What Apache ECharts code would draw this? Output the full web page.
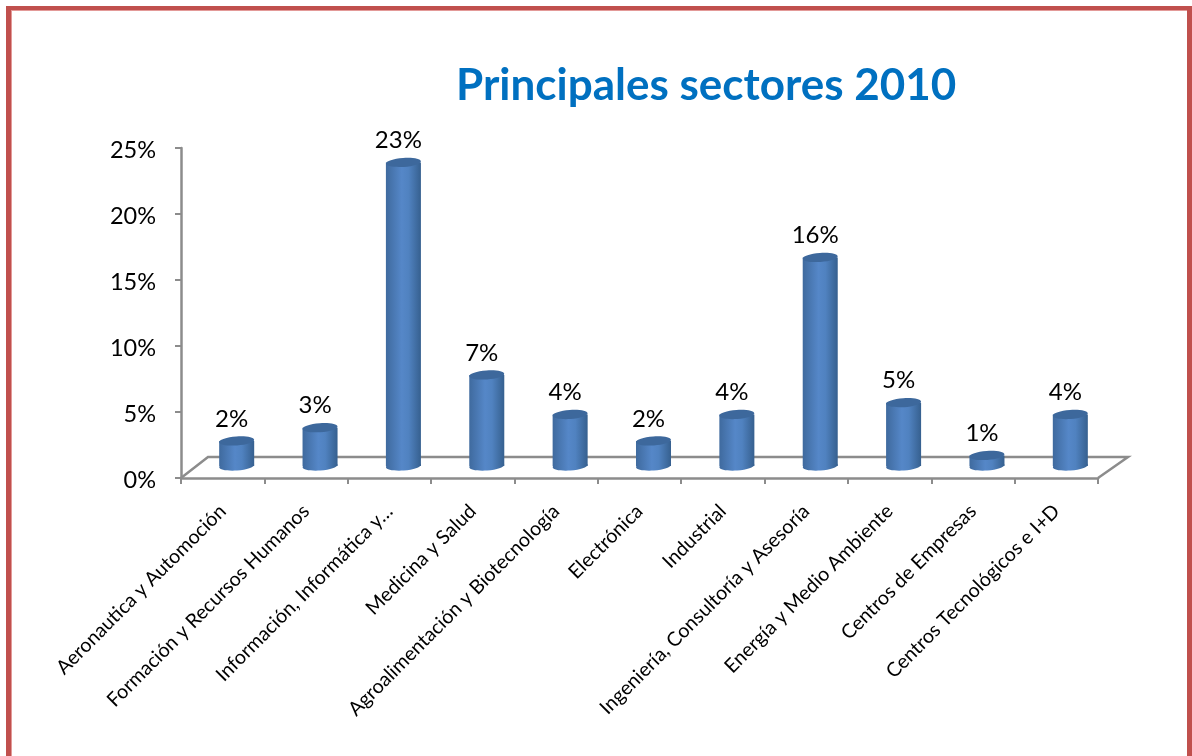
<!DOCTYPE html>
<html>
<head>
<meta charset="utf-8">
<title>Principales sectores 2010</title>
<script src="https://cdn.jsdelivr.net/npm/echarts@6/dist/echarts.min.js"></script>
<style>
  html, body { margin: 0; padding: 0; background: #fff; overflow: hidden; }
  #chart { width: 1192px; height: 756px; }
  /* marco rojo de la diapositiva, sin borde inferior */
  #frame {
    position: absolute; left: 6px; top: 6px; width: 1176px; height: 760px;
    border: 5px solid #c0504d; border-top-width: 4px;
    box-shadow: inset 1px 1px 0 #e39a98;
  }
</style>
</head>
<body>
<div id="chart"></div>
<div id="frame"></div>
<script>
const categories = [
  'Aeronautica y Automoción',
  'Formación y Recursos Humanos',
  'Información, Informática y…',
  'Medicina y Salud',
  'Agroalimentación y Biotecnología',
  'Electrónica',
  'Industrial',
  'Ingeniería, Consultoría y Asesoría',
  'Energía y Medio Ambiente',
  'Centros de Empresas',
  'Centros Tecnológicos e I+D'
]
const values = [1.9, 2.9, 23.0, 6.9, 3.9, 1.9, 3.9, 15.8, 4.8, 0.8, 3.9]
const fontName = 'Lato, "Open Sans", sans-serif'
const axisGrey = '#8c8c8c'

const chart = echarts.init(document.getElementById('chart'))

// desplazamiento de la perspectiva 3D respecto al eje
const depthX = 14
const depthY = 12

// suelo: parte trasera del plano
function renderFloor(params, api) {
  const cs = params.coordSys
  const y0 = api.coord([0, 0])[1]
  const backY = y0 - 21
  return {
    type: 'polyline',
    silent: true,
    shape: {
      points: [
        [cs.x, y0],
        [cs.x + 27, backY],
        [cs.x + cs.width + 30, backY],
        [cs.x + cs.width, y0]
      ]
    },
    style: { stroke: axisGrey, lineWidth: 2.5, fill: null }
  }
}

// cilindro
function renderBar(params, api) {
  const idx = api.value(0)
  const val = api.value(1)
  const top = api.coord([idx, val])
  const base = api.coord([idx, 0])
  const rx = api.size([1, 0])[0] * 0.21
  const ry = 4.5
  const cx = top[0] + depthX
  const topY = top[1] - depthY
  const baseY = base[1] - depthY
  const tilt = 0.07
  const bodyFill = {
    type: 'linear', x: 0, y: 0, x2: 1, y2: 0,
    colorStops: [
      { offset: 0, color: '#3f6a9e' },
      { offset: 0.45, color: '#5587c8' },
      { offset: 0.65, color: '#5082c0' },
      { offset: 1, color: '#36608f' }
    ]
  }
  return {
    type: 'group',
    children: [
      {
        type: 'ellipse',
        shape: { cx: cx, cy: baseY, rx: rx, ry: ry },
        rotation: tilt, originX: cx, originY: baseY,
        style: { fill: bodyFill }
      },
      {
        type: 'rect',
        shape: { x: cx - rx, y: topY, width: rx * 2, height: baseY - topY },
        style: { fill: bodyFill }
      },
      {
        type: 'ellipse',
        shape: { cx: cx, cy: topY, rx: rx, ry: ry },
        rotation: tilt, originX: cx, originY: topY,
        style: { fill: '#3d689c' }
      },
      {
        type: 'text',
        x: cx - 5,
        y: topY - 22,
        style: {
          text: Math.round(val) + '%',
          fill: '#000',
          font: '24px ' + fontName,
          align: 'center',
          verticalAlign: 'middle'
        }
      }
    ]
  }
}

chart.setOption({
  animation: false,
  title: {
    text: 'Principales sectores 2010',
    left: 451,
    top: 59,
    textStyle: {
      color: '#0070c0',
      fontFamily: fontName,
      fontWeight: 'bold',
      fontSize: 44
    }
  },
  grid: { left: 181, top: 148, width: 917, height: 330 },
  xAxis: {
    type: 'category',
    data: categories,
    axisLine: { lineStyle: { color: axisGrey, width: 2.5 } },
    axisTick: { show: true, length: 6, lineStyle: { color: axisGrey, width: 2 } },
    axisLabel: {
      interval: 0,
      rotate: 45,
      margin: 30,
      color: '#000',
      fontFamily: fontName,
      fontSize: 19.7
    }
  },
  yAxis: {
    type: 'value',
    min: 0,
    max: 25,
    interval: 5,
    axisLine: { show: true, lineStyle: { color: axisGrey, width: 2.5 } },
    axisTick: { show: true, length: 6, lineStyle: { color: axisGrey, width: 2 } },
    splitLine: { show: false },
    axisLabel: {
      margin: 25,
      formatter: '{t|{value}%}',
      rich: {
        t: {
          color: '#000',
          fontFamily: fontName,
          fontSize: 23.5,
          padding: [4, 0, 0, 0]
        }
      }
    }
  },
  series: [
    {
      type: 'custom',
      z: 1,
      silent: true,
      renderItem: renderFloor,
      data: [[0, 0]]
    },
    {
      type: 'custom',
      z: 2,
      renderItem: renderBar,
      encode: { x: 0, y: 1 },
      data: values.map((v, i) => [i, v])
    }
  ]
})
</script>
</body>
</html>
